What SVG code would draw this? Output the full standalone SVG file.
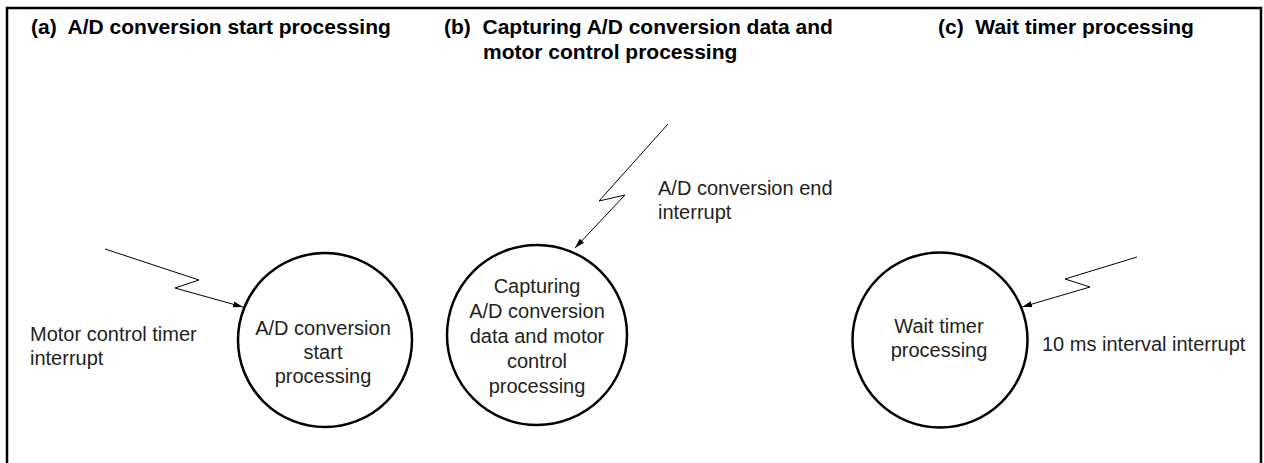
<svg xmlns="http://www.w3.org/2000/svg" width="1264" height="463" viewBox="0 0 1264 463">
<style>
.frame{fill:none;stroke:#000;stroke-width:2.5}
.node{fill:#fff;stroke:#000;stroke-width:2.5}
.conn{fill:none;stroke:#000;stroke-width:1}
.title{font-family:"Liberation Sans",Arial,sans-serif;font-weight:bold;font-size:21px;fill:#000}
.lbl{font-family:"Liberation Sans",Arial,sans-serif;font-size:20px;fill:#231f20}
.ctr{text-anchor:middle}
</style>
<defs>
<marker id="ah" markerUnits="userSpaceOnUse" markerWidth="11" markerHeight="7" refX="10" refY="3" orient="auto">
<path d="M0,0 L10,3 L0,6 z" fill="#000"/>
</marker>
</defs>
<rect class="frame" x="7" y="8" width="1254" height="470"/>
<g id="titles">
<text class="title" x="31" y="34">(a)&#160; A/D conversion start processing</text>
<text class="title" x="444" y="34">(b)&#160; Capturing A/D conversion data and</text>
<text class="title" x="483" y="59">motor control processing</text>
<text class="title" x="938" y="34">(c)&#160; Wait timer processing</text>
</g>
<g id="connectors">
<path class="conn" d="M105,249 L199,280 L175,288 L243,307" marker-end="url(#ah)"/>
<path class="conn" d="M668,124 L599,201 L625,195 L575,248" marker-end="url(#ah)"/>
<path class="conn" d="M1137,257 L1065,279 L1090,287 L1022,307" marker-end="url(#ah)"/>
</g>
<g id="node-a">
<circle class="node" cx="325" cy="340" r="87"/>
<text class="lbl ctr" x="323" y="335">A/D conversion</text>
<text class="lbl ctr" x="323" y="359">start</text>
<text class="lbl ctr" x="323" y="383">processing</text>
</g>
<g id="node-b">
<circle class="node" cx="537" cy="335" r="90"/>
<text class="lbl ctr" x="537" y="293">Capturing</text>
<text class="lbl ctr" x="537" y="318">A/D conversion</text>
<text class="lbl ctr" x="537" y="343">data and motor</text>
<text class="lbl ctr" x="537" y="368">control</text>
<text class="lbl ctr" x="537" y="393">processing</text>
</g>
<g id="node-c">
<circle class="node" cx="940" cy="340" r="87.5"/>
<text class="lbl ctr" x="939" y="333">Wait timer</text>
<text class="lbl ctr" x="939" y="357">processing</text>
</g>
<g id="labels">
<text class="lbl" x="30" y="341">Motor control timer</text>
<text class="lbl" x="30" y="365">interrupt</text>
<text class="lbl" x="658" y="195">A/D conversion end</text>
<text class="lbl" x="658" y="219">interrupt</text>
<text class="lbl" x="1042" y="351">10 ms interval interrupt</text>
</g>
</svg>
